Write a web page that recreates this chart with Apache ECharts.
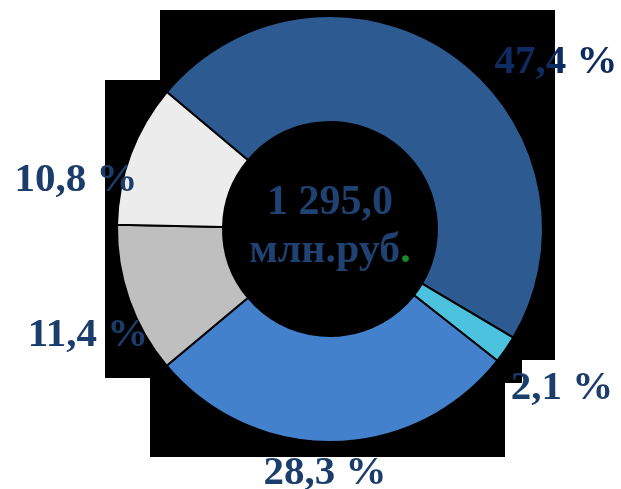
<!DOCTYPE html>
<html>
<head>
<meta charset="utf-8">
<script src="https://cdn.jsdelivr.net/npm/echarts@6/dist/echarts.min.js"></script>
<style>
  html, body { margin: 0; padding: 0; background: #fff; }
  #chart { width: 621px; height: 489px; }
</style>
</head>
<body>
<div id="chart"></div>
<script>
  // shares of the total, %
  var categories = ['dark', 'cyan', 'medium', 'gray', 'light'];
  var shares = [47.4, 2.1, 28.3, 11.4, 10.8];
  var totalText = '1 295,0';
  var unitText = 'млн.руб';

  var colors = ['#2c5a91', '#4cc2de', '#4381cc', '#bfbfbf', '#ececec'];
  // where each percentage label sits
  var labelPos = [[556, 62], [562, 388], [325, 473], [88, 335], [76, 180]];
  var labelColors = ['#0f2c62', '#1b3d6c', '#1b3d6c', '#1b3d6c', '#1b3d6c'];

  var chart = echarts.init(document.getElementById('chart'));

  var data = shares.map(function (v, i) {
    return {
      name: categories[i],
      value: v,
      itemStyle: { color: colors[i] },
      label: { color: labelColors[i] }
    };
  });

  chart.setOption({
    animation: false,
    graphic: [
      { type: 'rect', z: 0, shape: { x: 160, y: 10, width: 395, height: 350 }, style: { fill: '#000' } },
      { type: 'rect', z: 0, shape: { x: 105, y: 80, width: 60, height: 298 }, style: { fill: '#000' } },
      { type: 'rect', z: 0, shape: { x: 150, y: 355, width: 355, height: 102 }, style: { fill: '#000' } },
      { type: 'rect', z: 0, shape: { x: 500, y: 355, width: 22, height: 28 }, style: { fill: '#000' } },
      {
        type: 'text', z: 10, x: 330, y: 227,
        style: {
          text: '{a|' + totalText + '}\n{a|' + unitText + '}{g|.}',
          align: 'center', verticalAlign: 'middle',
          rich: {
            a: { fontFamily: 'Liberation Serif', fontWeight: 'bold', fontSize: 42, lineHeight: 48, fill: '#1f4272' },
            g: { fontFamily: 'Liberation Serif', fontWeight: 'bold', fontSize: 42, lineHeight: 48, fill: '#1c8a2a' }
          }
        }
      }
    ],
    series: [{
      type: 'pie',
      z: 2,
      center: [330, 229],
      radius: [107, 213],
      startAngle: 140,
      clockwise: true,
      data: data,
      itemStyle: { borderColor: '#000', borderWidth: 2 },
      label: {
        show: true,
        position: 'outside',
        overflow: 'none',
        fontFamily: 'Liberation Serif',
        fontWeight: 'bold',
        fontSize: 41,
        formatter: function (p) {
          return p.value.toFixed(1).replace('.', ',') + ' %';
        }
      },
      labelLine: { show: false },
      labelLayout: function (p) {
        var pos = labelPos[p.dataIndex];
        return { x: pos[0], y: pos[1], align: 'center', verticalAlign: 'middle' };
      },
      emphasis: { disabled: true }
    }]
  });
</script>
</body>
</html>
